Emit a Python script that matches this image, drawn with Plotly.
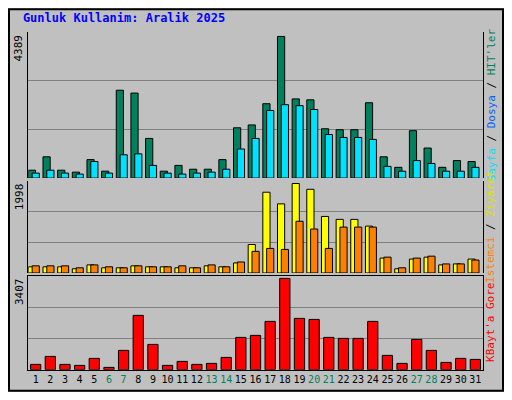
import plotly.graph_objects as go

days = list(range(1, 32))
weekend = {6, 7, 13, 14, 20, 21, 27, 28}
hits = [245,660,245,185,573,215,2723,2634,1230,215,394,275,275,573,1559,1648,2305,4389,2454,2425,1529,1499,1499,2335,660,334,1469,932,334,543,514]
files = [155,245,155,125,514,155,723,752,394,155,125,155,185,275,902,1230,2096,2275,2245,2126,1350,1260,1260,1200,364,215,543,454,215,215,334]
visits = [137,137,137,94,180,115,115,159,137,137,115,115,159,137,224,635,1803,1543,1998,1868,1262,1197,1197,1046,332,94,310,353,180,202,310]
sites = [159,159,159,115,180,137,115,159,137,137,159,115,180,137,245,483,548,526,1154,981,548,1024,1024,1024,353,115,332,375,202,202,288]
kbytes = [199,497,199,162,423,87,721,2027,945,162,311,199,236,460,1206,1281,1803,3407,1915,1877,1206,1169,1169,1803,535,236,1131,721,273,423,385]
ticktext = [f'<span style="color:#00805c">{d}</span>' if d in weekend else str(d) for d in days]

fig = go.Figure()
line = dict(color="black", width=1)
def bars(y, color, off, w, ax):
    fig.add_trace(go.Bar(x=days, y=y, marker=dict(color=color, line=line), offset=off, width=w,
                         xaxis="x", yaxis=ax, showlegend=False))
bars(hits, "#00805c", -0.5, 0.49, "y")
bars(files, "#00e0ff", -0.24, 0.49, "y")
bars(visits, "#ffff00", -0.5, 0.49, "y2")
bars(sites, "#ff8000", -0.24, 0.49, "y2")
bars(kbytes, "#ff0000", -0.35, 0.7, "y3")

font = dict(family="DejaVu Sans Mono", size=11, color="black")
def yax(mx, dom):
    r = mx * 1.03
    return dict(domain=dom, range=[0, r], tickvals=[r/3, 2*r/3], showticklabels=False, ticks="",
                showgrid=True, gridcolor="#808080", gridwidth=1, showline=True, linecolor="black",
                mirror=True, zeroline=False, fixedrange=True)
fig.update_layout(
    width=496, height=384, margin=dict(l=0, r=0, t=0, b=0),
    paper_bgcolor="#c0c0c0", plot_bgcolor="#c0c0c0", font=font, barmode="overlay",
    xaxis=dict(domain=[0.041, 0.957], range=[0.5, 31.5], tickvals=days, ticktext=ticktext,
               tickangle=0, showline=True, linecolor="black", mirror=True, ticks="", anchor="y3",
               tickfont=dict(size=10, family="DejaVu Sans Mono")),
    yaxis=yax(4389, [0.557, 0.937]),
    yaxis2=yax(1998, [0.31, 0.55]),
    yaxis3=yax(3407, [0.058, 0.303]),
    title=dict(text="Gunluk Kullanim: Aralik 2025", x=0.03, xanchor="left", y=0.975, yanchor="middle",
               font=dict(family="DejaVu Sans Mono", size=12, color="#0000ff", weight="bold")),
    shapes=[dict(type="rect", xref="paper", yref="paper", x0=0.002, y0=0.003, x1=0.998, y1=0.997,
                 line=dict(color="black", width=2))],
)
ann = [
    dict(text="4389", x=0.022, y=0.937, yanchor="top"),
    dict(text="1998", x=0.022, y=0.55, yanchor="top"),
    dict(text="3407", x=0.022, y=0.303, yanchor="top"),
    dict(text='<span style="color:#00e0ff">Sayfa</span> / <span style="color:#0060ff">Dosya</span> / <span style="color:#00805c">HIT\'ler</span>',
         x=0.974, y=0.747, yanchor="middle"),
    dict(text='<span style="color:#ff8000">Istemci</span> / <span style="color:#e0e000">Ziyaret</span>',
         x=0.974, y=0.43, yanchor="middle"),
    dict(text='<span style="color:#ff0000">KBayt\'a Gore</span>', x=0.974, y=0.18, yanchor="middle"),
]
for a in ann:
    fig.add_annotation(xref="paper", yref="paper", textangle=-90, showarrow=False, xanchor="center",
                       font=dict(family="DejaVu Sans Mono", size=11, color="black"), **a)
fig.write_html("out.html")
